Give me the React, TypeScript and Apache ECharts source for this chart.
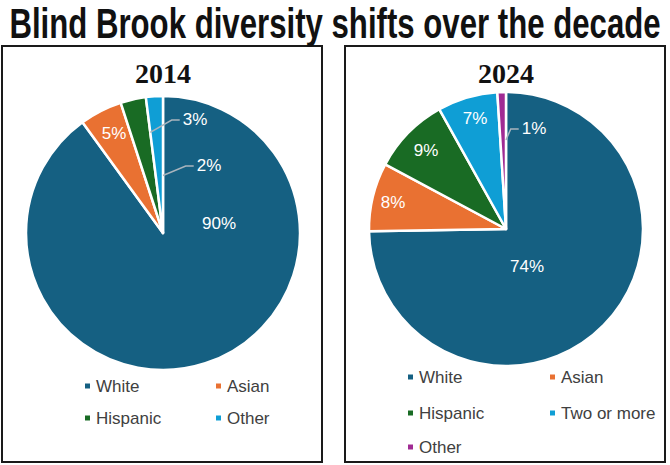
import React, { useEffect, useRef } from 'react';
import * as echarts from 'echarts';

const chartTitle = 'Blind Brook diversity shifts over the decade';
const years = ['2014', '2024'];
const categories2014 = ['White', 'Asian', 'Hispanic', 'Other'];
const values2014 = [90, 5, 3, 2];
const categories2024 = ['White', 'Asian', 'Hispanic', 'Two or more', 'Other'];
const values2024 = [74, 8, 9, 7, 1];

const colors2014 = ['#156082', '#E97132', '#196B24', '#0F9ED5'];
const colors2024 = ['#156082', '#E97132', '#196B24', '#0F9ED5', '#A02B93'];

// label placement (layout config, not data)
const labelPos2014 = [[219, 223], [114, 133], [195, 119], [209, 165]];
const labelPos2024 = [[527, 266], [393, 202], [426, 150], [475, 118], [534, 128]];
// leader line target: fraction of radius at which the line meets its slice (0 = no leader)
const leaderR2014 = [0, 0, 0.74, 0.42];
const leaderR2024 = [0, 0, 0, 0, 0.65];

const FONT = '"Liberation Sans", Arial, sans-serif';
const RADIUS = 137;
const CENTER2014 = [163, 233];
const CENTER2024 = [506, 229];
const LABEL_SIZE = 17;

function makePie(names: string[], values: number[], colors: string[], pos: number[][], center: number[]) {
  return {
    type: 'pie',
    center,
    radius: RADIUS,
    startAngle: 90,
    clockwise: true,
    avoidLabelOverlap: false,
    silent: true,
    emphasis: { disabled: true },
    itemStyle: { borderColor: '#ffffff', borderWidth: 2.5 },
    label: {
      show: true,
      position: 'inside',
      formatter: '{c}%',
      color: '#ffffff',
      fontSize: LABEL_SIZE,
      fontFamily: FONT,
    },
    labelLine: { show: false },
    labelLayout: (p: any) => ({
      x: pos[p.dataIndex][0],
      y: pos[p.dataIndex][1],
      align: 'center',
      verticalAlign: 'middle',
    }),
    data: names.map((n, i) => ({ name: n, value: values[i], itemStyle: { color: colors[i] } })),
  };
}

// leader lines computed from slice geometry (values -> angles)
function leaderLines(values: number[], leaderR: number[], pos: number[][], center: number[]) {
  const total = values.reduce((a, b) => a + b, 0);
  let acc = 0;
  const out: any[] = [];
  values.forEach((v, i) => {
    acc += v;
    if (leaderR[i] <= 0) return;
    const theta = (acc / total) * Math.PI * 2;
    const r = leaderR[i] * RADIUS;
    const tx = center[0] + r * Math.sin(theta);
    const ty = center[1] - r * Math.cos(theta);
    const txt = `${v}%`;
    const w = echarts.format.getTextRect
      ? (echarts.format as any).getTextRect?.(txt, `${LABEL_SIZE}px ${FONT}`)?.width
      : undefined;
    const width = typeof w === 'number' ? w : txt.length * 12.5;
    const ax = pos[i][0] - width / 2 - 3;
    const ay = pos[i][1] + 1;
    out.push({
      type: 'polyline',
      z: 20,
      silent: true,
      shape: { points: [[tx, ty], [ax - 8, ay], [ax, ay]] },
      style: { stroke: '#a9b4bd', lineWidth: 1.5, fill: 'none' },
    });
  });
  return out;
}

function makeLegend(names: string[], colorMap: Record<string, string>, left: number, top: number, textWidth: number, gap: number) {
  return {
    left,
    top,
    width: 400,
    padding: 0,
    orient: 'horizontal',
    itemWidth: 7,
    itemHeight: 7,
    itemGap: gap,
    icon: 'rect',
    selectedMode: false,
    textStyle: { fontSize: 17, color: '#404040', fontFamily: FONT, width: textWidth, lineHeight: 20 },
    data: names.map((n) => ({ name: n, icon: 'rect', itemStyle: { color: colorMap[n] } })),
  };
}

export default function App() {
  const ref = useRef<HTMLDivElement>(null);
  useEffect(() => {
    if (!ref.current) return;
    const chart = echarts.init(ref.current, undefined, { renderer: 'svg' });
    const map14: Record<string, string> = {};
    categories2014.forEach((n, i) => (map14[n] = colors2014[i]));
    const map24: Record<string, string> = {};
    categories2024.forEach((n, i) => (map24[n] = colors2024[i]));

    chart.setOption({
      animation: false,
      backgroundColor: '#ffffff',
      graphic: [
        {
          type: 'text', x: 335, y: 23, scaleX: 0.725, z: 10,
          style: {
            text: chartTitle, fontSize: 43, fontWeight: 'bold', fontFamily: FONT,
            align: 'center', verticalAlign: 'middle', fill: '#111111',
          },
        },
        { type: 'rect', shape: { x: 2, y: 46, width: 320, height: 416 }, style: { fill: 'none', stroke: '#1a1a1a', lineWidth: 2 } },
        { type: 'rect', shape: { x: 345, y: 46, width: 320, height: 416 }, style: { fill: 'none', stroke: '#1a1a1a', lineWidth: 2 } },
        {
          type: 'text', x: 163, y: 73,
          style: { text: years[0], fontSize: 28, fontWeight: 'bold', fontFamily: '"Liberation Serif", serif', align: 'center', verticalAlign: 'middle', fill: '#111111' },
        },
        {
          type: 'text', x: 506, y: 73,
          style: { text: years[1], fontSize: 28, fontWeight: 'bold', fontFamily: '"Liberation Serif", serif', align: 'center', verticalAlign: 'middle', fill: '#111111' },
        },
        ...leaderLines(values2014, leaderR2014, labelPos2014, CENTER2014),
        ...leaderLines(values2024, leaderR2024, labelPos2024, CENTER2024),
      ],
      legend: [
        makeLegend(['White', 'Asian'], map14, 83, 376, 100, 18),
        makeLegend(['Hispanic', 'Other'], map14, 83, 408, 100, 18),
        makeLegend(['White', 'Asian'], map24, 406, 367, 100, 29),
        makeLegend(['Hispanic', 'Two or more'], map24, 406, 403, 100, 29),
        makeLegend(['Other'], map24, 406, 437, 100, 29),
      ],
      series: [
        makePie(categories2014, values2014, colors2014, labelPos2014, CENTER2014),
        makePie(categories2024, values2024, colors2024, labelPos2024, CENTER2024),
      ],
    });
    return () => chart.dispose();
  }, []);
  return (
    <div
      ref={ref}
      style={{ position: 'fixed', left: 0, top: 0, width: 670, height: 465, background: '#fff' }}
    />
  );
}
